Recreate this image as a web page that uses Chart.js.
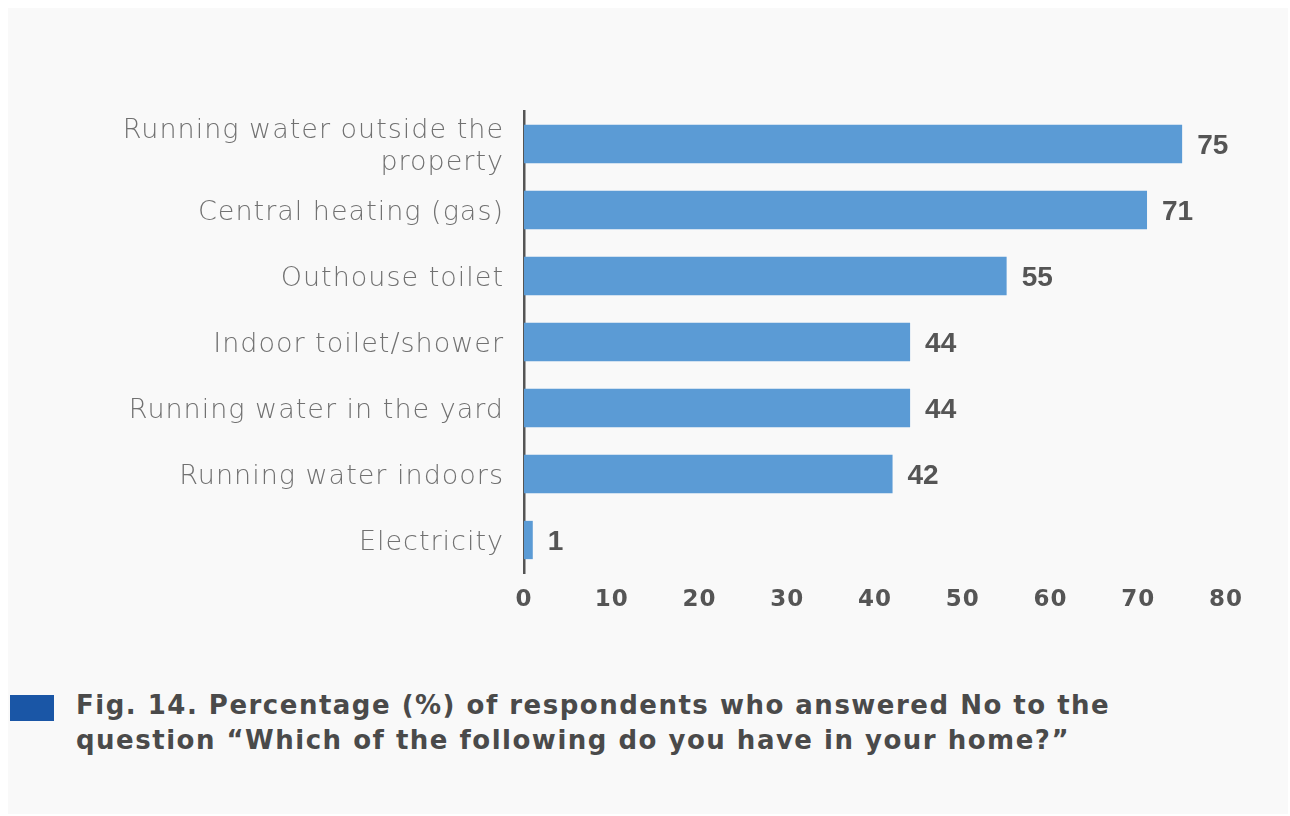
<!DOCTYPE html>
<html><head><meta charset="utf-8">
<script src="https://cdn.jsdelivr.net/npm/chart.js@4"></script>
<style>
html,body{margin:0;padding:0;background:#fff;}
#wrap{position:relative;width:1290px;height:816px;overflow:hidden;}
#panel{position:absolute;left:8px;top:8px;width:1280px;height:806px;background:#f9f9f9;}
#cv{position:absolute;left:0;top:0;}
#cap{position:absolute;left:76px;top:688px;font-family:"DejaVu Sans",sans-serif;font-weight:700;font-size:26px;letter-spacing:1.5px;line-height:35px;color:#4a4a4a;white-space:nowrap;}
#sq{position:absolute;left:10px;top:695px;width:44px;height:26px;background:#1a56a6;}
</style></head>
<body>
<div id="wrap">
<div id="panel"></div>
<canvas id="cv" width="1290" height="660"></canvas>
<div id="sq"></div>
<div id="cap">Fig. 14. Percentage (%) of respondents who answered No to the<br>question “Which of the following do you have in your home?”</div>
</div>
<script>
const categories = [["Running water outside the","property"],"Central heating (gas)","Outhouse toilet","Indoor toilet/shower","Running water in the yard","Running water indoors","Electricity"];
const values = [75,71,55,44,44,42,1];
const xTicks = [0,10,20,30,40,50,60,70,80];

const spacing = {
  id:'spacing',
  beforeDraw(chart){ chart.ctx.letterSpacing = '1px'; },
  afterDraw(chart){ chart.ctx.letterSpacing = '0px'; }
};

const valueLabels = {
  id:'valueLabels',
  afterDatasetsDraw(chart){
    const ctx = chart.ctx;
    const meta = chart.getDatasetMeta(0);
    ctx.save();
    ctx.letterSpacing = '0px';
    ctx.font = '700 28px "Liberation Sans", Arial, sans-serif';
    ctx.fillStyle = '#555';
    ctx.textAlign = 'left';
    ctx.textBaseline = 'middle';
    meta.data.forEach((bar,i)=>{
      ctx.fillText(String(values[i]), bar.x + 15, bar.y + 2);
    });
    ctx.restore();
  }
};

new Chart(document.getElementById('cv'), {
  type:'bar',
  data:{labels:categories, datasets:[{data:values, backgroundColor:'#5b9bd5', barPercentage:0.58, categoryPercentage:1}]},
  options:{
    indexAxis:'y', responsive:false, animation:false,
    layout:{padding:{top:111,right:64,left:0,bottom:0}},
    plugins:{legend:{display:false},tooltip:{enabled:false}},
    scales:{
      x:{min:0,max:80,
        afterBuildTicks(s){s.ticks = xTicks.map(v=>({value:v}));},
        afterFit(s){s.height = 87;},
        grid:{display:false,drawTicks:false}, border:{display:false},
        ticks:{padding:13,color:'#555',font:{family:'"DejaVu Sans", sans-serif',weight:'700',size:23}}},
      y:{
        afterFit(s){s.width = 524;},
        grid:{display:false,drawTicks:false},
        border:{display:true,color:'#555',width:2.5},
        ticks:{padding:20,labelOffset:3,color:'#717171',font:{family:'"DejaVu Sans", sans-serif',weight:'200',size:27,lineHeight:1.15}}}
    }
  },
  plugins:[spacing, valueLabels]
});
</script>
</body></html>
